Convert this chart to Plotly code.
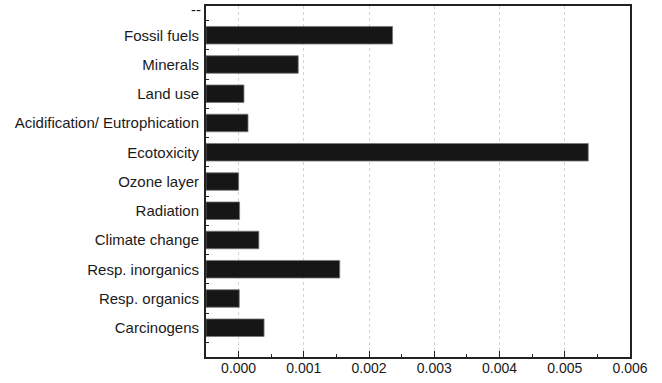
import plotly.graph_objects as go

# Impact categories, listed bottom to top
categories = [
    "Carcinogens",
    "Resp. organics",
    "Resp. inorganics",
    "Climate change",
    "Radiation",
    "Ozone layer",
    "Ecotoxicity",
    "Acidification/ Eutrophication",
    "Land use",
    "Minerals",
    "Fossil fuels",
]
values = [0.00039, 0.00001, 0.00155, 0.00031, 0.000015, 0.0, 0.00536, 0.000144, 0.000082, 0.000914, 0.00236]

x_min, x_max = -0.0005, 0.006
x_ticks = [0.000, 0.001, 0.002, 0.003, 0.004, 0.005, 0.006]
x_tick_labels = ["0.000", "0.001", "0.002", "0.003", "0.004", "0.005", "0.006"]

positions = list(range(len(categories)))
top_label = "--"

fig = go.Figure(
    go.Bar(
        y=positions,
        x=[v - x_min for v in values],
        base=x_min,
        orientation="h",
        width=0.6,
        marker=dict(color="#161616", line=dict(color="#777777", width=0.8)),
        hoverinfo="skip",
    )
)

axis_color = "#222222"
fig.update_layout(
    width=662,
    height=383,
    margin=dict(l=206, r=32, t=6, b=26),
    paper_bgcolor="white",
    plot_bgcolor="white",
    showlegend=False,
    font=dict(family="Liberation Sans, Arial, sans-serif", color="#1a1a1a"),
    bargap=0.4,
)
# label sitting at the top edge of the category axis
fig.add_annotation(
    x=0, xref="paper", xanchor="right", xshift=-3,
    y=len(categories), yref="y", yanchor="middle", yshift=-3,
    text=top_label, showarrow=False, font=dict(size=15),
)
fig.update_xaxes(
    range=[x_min, x_max],
    tickvals=x_ticks,
    ticktext=x_tick_labels,
    ticks="inside",
    ticklen=6,
    tickwidth=1.2,
    tickcolor=axis_color,
    tickfont=dict(size=14),
    ticklabelstandoff=-3,
    automargin=False,
    showgrid=True,
    gridcolor="#d4d4d4",
    griddash="dot",
    gridwidth=1,
    showline=True,
    linecolor=axis_color,
    linewidth=2,
    mirror=True,
    zeroline=False,
    minor=dict(dtick=0.0005, tick0=0, ticks="inside", ticklen=3, tickcolor=axis_color, showgrid=False),
)
fig.update_yaxes(
    range=[-1, len(categories)],
    tickvals=positions,
    ticktext=categories,
    ticks="inside",
    ticklen=0,
    tickfont=dict(size=15),
    ticklabelstandoff=2,
    automargin=False,
    showgrid=False,
    showline=True,
    linecolor=axis_color,
    linewidth=2,
    mirror=True,
    zeroline=False,
    minor=dict(dtick=1, tick0=0.5, ticks="inside", ticklen=3, tickcolor=axis_color, showgrid=False),
)

fig.write_html("out.html")
